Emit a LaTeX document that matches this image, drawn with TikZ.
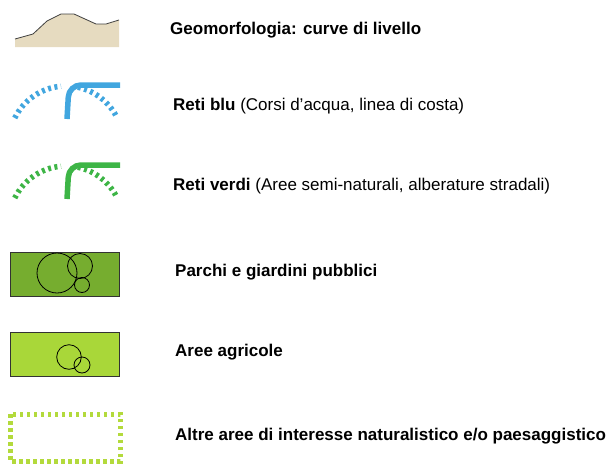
\documentclass[tikz,border=0pt]{standalone}
\usepackage{fontspec}
\setmainfont{Liberation Sans}
\usetikzlibrary{calc}
\definecolor{terra}{HTML}{E6DBC0}
\definecolor{blu}{HTML}{41A6DF}
\definecolor{verde}{HTML}{3DB546}
\definecolor{oliva}{HTML}{76AD2F}
\definecolor{agricolo}{HTML}{A9D739}
\definecolor{altro}{HTML}{B3DA3C}

\begin{document}
\begin{tikzpicture}[x=1pt,y=-1pt,
	voce/.style={anchor=west,inner sep=0pt,font=\fontsize{17}{20}\selectfont},
	puntini/.style={line width=5.5pt,dash pattern=on 3pt off 3.5pt},
	rete/.style={line width=5.5pt,rounded corners=12pt},
	area/.style={draw=black!80,line width=0.9pt}]
		
		\def\centerarc[#1](#2)(#3:#4:#5)% Syntax: [draw options] (center) (initial angle:final angle:radius)
		{ \draw[#1] ($(#2)+({#5*cos(#3)},{#5*sin(#3)})$) arc (#3:#4:#5); }
		
		\useasboundingbox (0,0) rectangle (616,469);
		
		% curve di livello
		\fill[terra] (15,39) -- (33,34) -- (47,21) -- (61,14) -- (74,14) -- (96,24) -- (106,24) -- (119,20) -- (119,47) -- (15,47) -- cycle;
		\draw[black!75,line width=0.8pt] (15,39) -- (33,34) -- (47,21) -- (61,14) -- (74,14) -- (96,24) -- (106,24) -- (119,20);
		\node[voce] (geo) at (170,30) {\textbf{Geomorfologia: curve di livello}};
		
		% reti blu
		\centerarc[puntini,blu](66,143)(-154:-95:57);
		\centerarc[puntini,blu](66,143)(-78:-26:57);
		\draw[rete,blu] (67,119) -- (69,85) -- (120,85);
		\node[voce] (blu) at (173,106) {\textbf{Reti blu} (Corsi d’acqua, linea di costa)};
		
		% reti verdi
		\centerarc[puntini,verde](66,223)(-154:-95:57);
		\centerarc[puntini,verde](66,223)(-78:-26:57);
		\draw[rete,verde] (67,199) -- (69,165) -- (120,165);
		\node[voce] (verdi) at (173,186) {\textbf{Reti verdi} (Aree semi-naturali, alberature stradali)};
		
		% parchi
		\draw[area,fill=oliva] (10,252) rectangle (119,296);
		\draw[line width=0.8pt] (57,273) circle (20);
		\draw[line width=0.8pt] (80,266) circle (12.5);
		\draw[line width=0.8pt] (82,285) circle (7.5);
		\node[voce] (parchi) at (175,272) {\textbf{Parchi e giardini pubblici}};
		
		% agricole
		\draw[area,fill=agricolo] (10,332) rectangle (119,376);
		\draw[line width=0.8pt] (69,357) circle (12.3);
		\draw[line width=0.8pt] (82,365) circle (8);
		\node[voce] (agricole) at (175,352) {\textbf{Aree agricole}};
		
		% altre aree
		\draw[altro,line width=5pt,dash pattern=on 3.5pt off 3.5pt] (10,414) rectangle (120,461);
		\node[voce] (altre) at (175,436) {\textbf{Altre aree di interesse naturalistico e/o paesaggistico}};
\end{tikzpicture}
\end{document}
